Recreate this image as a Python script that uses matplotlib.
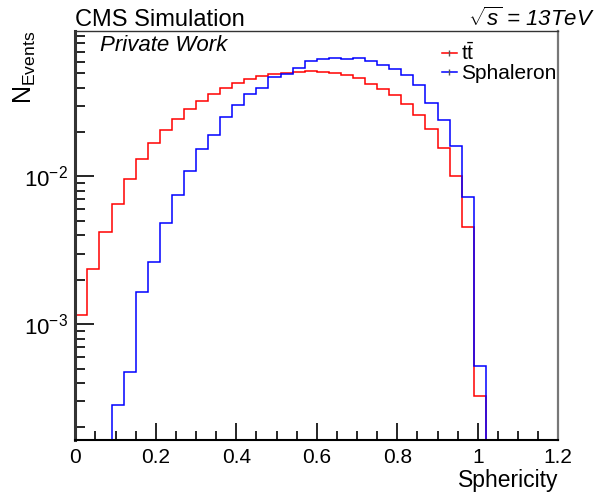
import numpy as np
import matplotlib
matplotlib.use("Agg")
import matplotlib.pyplot as plt
from matplotlib.lines import Line2D
from matplotlib.ticker import LogLocator, NullFormatter, FixedLocator, FixedFormatter, MultipleLocator

plt.rcParams['font.family'] = ['Liberation Sans', 'DejaVu Sans']
plt.rcParams['mathtext.fontset'] = 'custom'
plt.rcParams['mathtext.rm'] = 'Liberation Sans'
plt.rcParams['mathtext.it'] = 'Liberation Sans:italic'
plt.rcParams['mathtext.bf'] = 'Liberation Sans:bold'

# ---- data ----
x_min, x_max, n_bins = 0.0, 1.2, 40
ttbar = [1.16e-3, 2.37e-3, 4.19e-3, 6.55e-3, 9.69e-3, 0.01307, 0.01694, 0.02075,
         0.02461, 0.02851, 0.03260, 0.03630, 0.03953, 0.04295, 0.04592, 0.04812,
         0.04966, 0.05045, 0.05124, 0.05155, 0.05076, 0.04983, 0.04843, 0.04622,
         0.04249, 0.03893, 0.03562, 0.03096, 0.02620, 0.02098, 0.01560, 0.01012,
         4.57e-3, 3.27e-4, 0, 0, 0, 0, 0, 0]
sphaleron = [0, 0, 0, 2.84e-4, 4.72e-4, 1.644e-3, 2.626e-3, 4.84e-3,
             7.50e-3, 0.01094, 0.01531, 0.01914, 0.02529, 0.03034, 0.03603, 0.03992,
             0.04694, 0.04921, 0.05452, 0.06081, 0.06246, 0.06343, 0.06215, 0.06313,
             0.06081, 0.05714, 0.05318, 0.04888, 0.04185, 0.03148, 0.02404, 0.01607,
             7.23e-3, 5.21e-4, 0, 0, 0, 0, 0, 0]
labels = [r'$\mathrm{t\bar{t}}$', 'Sphaleron']
colors = ['#ff0000', '#0000ff']
y_lo, y_hi = 10 ** -3.784, 10 ** -1.015
xticks = [0, 0.2, 0.4, 0.6, 0.8, 1.0, 1.2]
xticklabels = ['0', '0.2', '0.4', '0.6', '0.8', '1', '1.2']
yticks = [1e-3, 1e-2]
yticklabels = [r'$10^{-3}$', r'$10^{-2}$']

edges = np.linspace(x_min, x_max, n_bins + 1)

fig = plt.figure(figsize=(6.01, 4.93), dpi=100)
W, H = 601, 493
ax = fig.add_axes([75.3 / W, 1 - 440 / H, (558.3 - 75.3) / W, (440 - 31) / H])

for vals, c in zip([ttbar, sphaleron], colors):
    v = np.asarray(vals, dtype=float)
    v = np.where(v > 0, v, y_lo)
    ax.stairs(v, edges, color=c, lw=1.1, baseline=None)

ax.set_yscale('log')
ax.set_xlim(x_min, x_max)
ax.set_ylim(y_lo, y_hi)

ax.xaxis.set_major_locator(FixedLocator(xticks))
ax.xaxis.set_major_formatter(FixedFormatter(xticklabels))
ax.xaxis.set_minor_locator(MultipleLocator(0.05))
ax.yaxis.set_major_locator(FixedLocator(yticks))
ax.yaxis.set_major_formatter(FixedFormatter(yticklabels))
ax.yaxis.set_minor_locator(LogLocator(base=10, subs=np.arange(2, 10)))
ax.yaxis.set_minor_formatter(NullFormatter())

ax.tick_params(axis='both', which='both', direction='in', top=False, right=False,
               colors='black', width=1.2)
ax.tick_params(axis='x', which='major', length=12, labelsize=15, pad=6)
ax.tick_params(axis='x', which='minor', length=6.5)
ax.tick_params(axis='y', which='major', length=14, labelsize=16, pad=5)
ax.tick_params(axis='y', which='minor', length=7)

ax.spines['left'].set_linewidth(2.2)
ax.spines['left'].set_color('#333333')
ax.spines['bottom'].set_linewidth(1.5)
ax.spines['bottom'].set_color('black')
ax.spines['top'].set_linewidth(1.0)
ax.spines['top'].set_color('#333333')
ax.spines['right'].set_linewidth(1.6)
ax.spines['right'].set_color('#777777')

ax.set_xlabel('Sphericity', fontsize=16.5, loc='right', labelpad=1)
ax.set_ylabel(r'$\mathrm{N_{Events}}$', fontsize=18, loc='top')
ax.yaxis.set_label_coords((38 - 75.3) / 483, 1.0)

handles = [Line2D([], [], color=c, lw=1.1, marker='|', ms=4, mec='#555555') for c in colors]
ax.legend(handles, labels, loc='upper left', bbox_to_anchor=(0.759, 0.972),
          frameon=False, handlelength=0.72, handletextpad=0.18, labelspacing=0.0,
          fontsize=15, borderpad=0, borderaxespad=0)

fig.text(75 / W, 1 - 26 / H, 'CMS Simulation', fontsize=17, ha='left', va='baseline')
fig.text(595 / W, 1 - 26 / H, r'$\sqrt{s}$ = 13TeV', fontsize=16, ha='right',
         va='baseline', style='italic')
ax.text(100 / W, 1 - 51 / H, 'Private Work', transform=fig.transFigure, fontsize=16,
        style='italic', ha='left', va='baseline')

fig.savefig('out.png', dpi=100)
